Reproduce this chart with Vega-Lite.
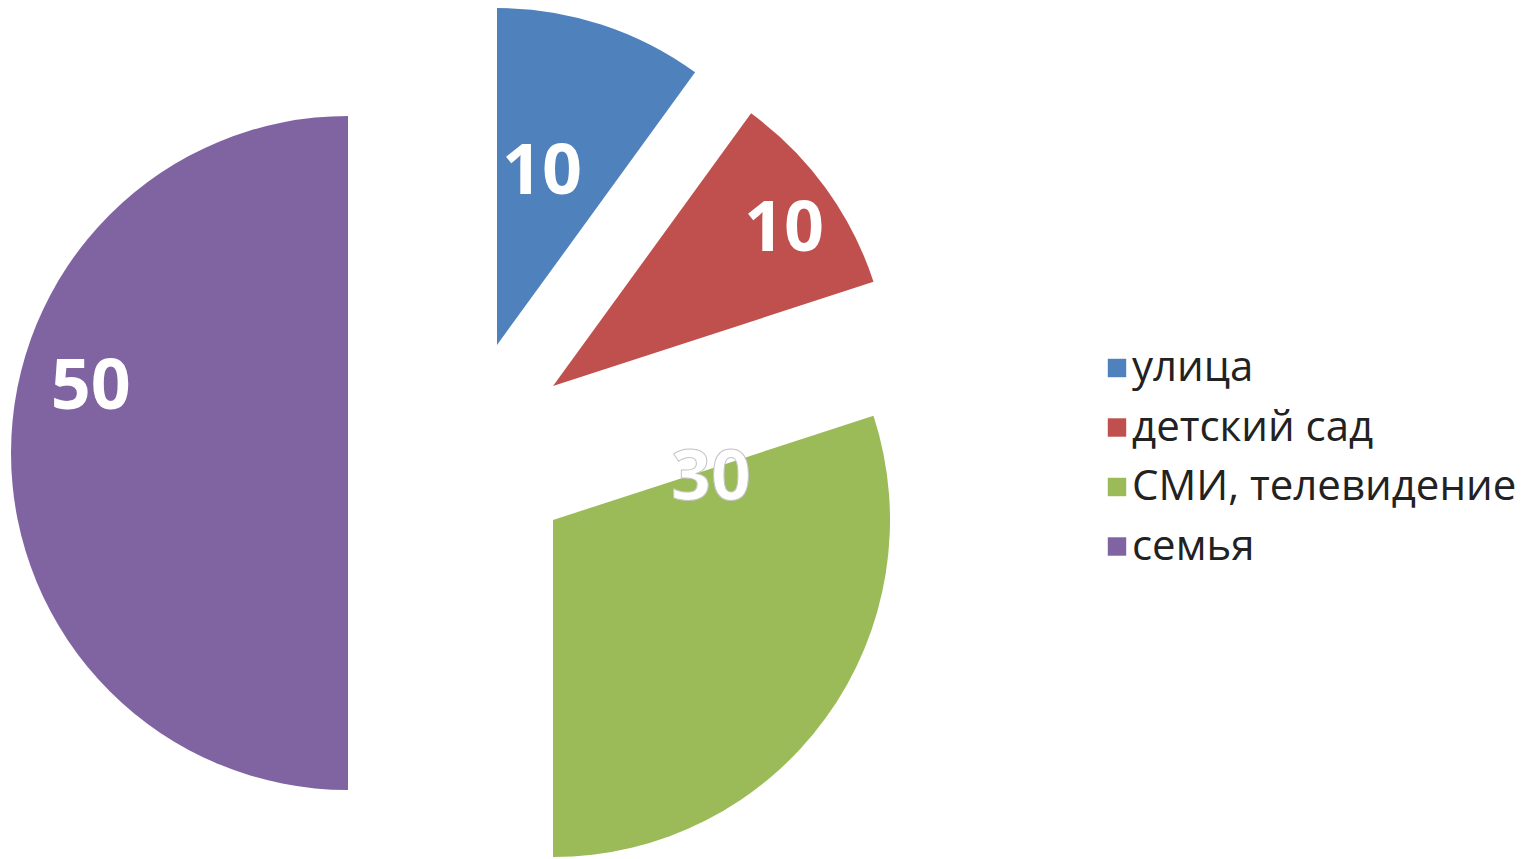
{
  "$schema": "https://vega.github.io/schema/vega-lite/v6.json",
  "width": 1536,
  "height": 859,
  "autosize": "none",
  "padding": 0,
  "background": "white",
  "config": {"view": {"stroke": null}},
  "data": {"values": [
    {"category": "улица", "value": 10},
    {"category": "детский сад", "value": 10},
    {"category": "СМИ, телевидение", "value": 30},
    {"category": "семья", "value": 50}
  ]},
  "transform": [{"stack": "value", "groupby": [], "as": ["v0", "v1"]}],
  "layer": [
    {
      "transform": [{"filter": "datum.category === 'улица'"}],
      "mark": {"type": "arc", "radius": 337, "xOffset": -271, "yOffset": -84.5},
      "encoding": {
        "theta": {"field": "v0", "type": "quantitative", "scale": {"domain": [0, 100]}},
        "theta2": {"field": "v1"},
        "color": {"field": "category", "type": "nominal",
          "scale": {"domain": ["улица", "детский сад", "СМИ, телевидение", "семья"], "range": ["#4F81BD", "#C0504D", "#9BBB59", "#8064A2"]},
          "legend": {"title": null, "orient": "none", "legendX": 1096, "legendY": 347, "symbolType": "square", "symbolSize": 340, "symbolStrokeWidth": 0, "labelFontSize": 42, "labelFont": "Open Sans", "labelColor": "#222222", "labelLimit": 0, "rowPadding": 17.5, "labelOffset": -6}}
      }
    },
    {
      "transform": [{"filter": "datum.category === 'детский сад'"}],
      "mark": {"type": "arc", "radius": 337, "xOffset": -215, "yOffset": -43.5},
      "encoding": {
        "theta": {"field": "v0", "type": "quantitative", "scale": {"domain": [0, 100]}},
        "theta2": {"field": "v1"},
        "color": {"field": "category", "type": "nominal",
          "scale": {"domain": ["улица", "детский сад", "СМИ, телевидение", "семья"], "range": ["#4F81BD", "#C0504D", "#9BBB59", "#8064A2"]},
          "legend": {"title": null, "orient": "none", "legendX": 1096, "legendY": 347, "symbolType": "square", "symbolSize": 340, "symbolStrokeWidth": 0, "labelFontSize": 42, "labelFont": "Open Sans", "labelColor": "#222222", "labelLimit": 0, "rowPadding": 17.5, "labelOffset": -6}}
      }
    },
    {
      "transform": [{"filter": "datum.category === 'СМИ, телевидение'"}],
      "mark": {"type": "arc", "radius": 337, "xOffset": -215, "yOffset": 90.5},
      "encoding": {
        "theta": {"field": "v0", "type": "quantitative", "scale": {"domain": [0, 100]}},
        "theta2": {"field": "v1"},
        "color": {"field": "category", "type": "nominal",
          "scale": {"domain": ["улица", "детский сад", "СМИ, телевидение", "семья"], "range": ["#4F81BD", "#C0504D", "#9BBB59", "#8064A2"]},
          "legend": {"title": null, "orient": "none", "legendX": 1096, "legendY": 347, "symbolType": "square", "symbolSize": 340, "symbolStrokeWidth": 0, "labelFontSize": 42, "labelFont": "Open Sans", "labelColor": "#222222", "labelLimit": 0, "rowPadding": 17.5, "labelOffset": -6}}
      }
    },
    {
      "transform": [{"filter": "datum.category === 'семья'"}],
      "mark": {"type": "arc", "radius": 337, "xOffset": -420, "yOffset": 23.5},
      "encoding": {
        "theta": {"field": "v0", "type": "quantitative", "scale": {"domain": [0, 100]}},
        "theta2": {"field": "v1"},
        "color": {"field": "category", "type": "nominal",
          "scale": {"domain": ["улица", "детский сад", "СМИ, телевидение", "семья"], "range": ["#4F81BD", "#C0504D", "#9BBB59", "#8064A2"]},
          "legend": {"title": null, "orient": "none", "legendX": 1096, "legendY": 347, "symbolType": "square", "symbolSize": 340, "symbolStrokeWidth": 0, "labelFontSize": 42, "labelFont": "Open Sans", "labelColor": "#222222", "labelLimit": 0, "rowPadding": 17.5, "labelOffset": -6}}
      }
    },
    {
      "transform": [{"filter": "datum.category === 'улица'"}],
      "mark": {"type": "text", "radius": 182.6, "thetaOffset": 0.249, "xOffset": -271, "yOffset": -84.5, "dy": 5, "font": "Open Sans", "fontWeight": "bold", "fontSize": 70, "fill": "white", "align": "center", "baseline": "middle"},
      "encoding": {
        "theta": {"field": "v0", "type": "quantitative", "stack": null},
        "text": {"field": "value", "type": "quantitative"}
      }
    },
    {
      "transform": [{"filter": "datum.category === 'детский сад'"}],
      "mark": {"type": "text", "radius": 281, "thetaOffset": 0.337, "xOffset": -215, "yOffset": -43.5, "dy": 4, "font": "Open Sans", "fontWeight": "bold", "fontSize": 70, "fill": "white", "align": "center", "baseline": "middle"},
      "encoding": {
        "theta": {"field": "v0", "type": "quantitative", "stack": null},
        "text": {"field": "value", "type": "quantitative"}
      }
    },
    {
      "transform": [{"filter": "datum.category === 'СМИ, телевидение'"}],
      "mark": {"type": "text", "radius": 164.6, "thetaOffset": 0.031, "xOffset": -215, "yOffset": 90.5, "dy": 5, "font": "Open Sans", "fontWeight": "bold", "fontSize": 70, "fill": "white", "stroke": "#c4c4c4", "strokeWidth": 1, "align": "center", "baseline": "middle"},
      "encoding": {
        "theta": {"field": "v0", "type": "quantitative", "stack": null},
        "text": {"field": "value", "type": "quantitative"}
      }
    },
    {
      "transform": [{"filter": "datum.category === 'семья'"}],
      "mark": {"type": "text", "radius": 266, "thetaOffset": 1.829, "xOffset": -420, "yOffset": 23.5, "dy": 3, "font": "Open Sans", "fontWeight": "bold", "fontSize": 70, "fill": "white", "align": "center", "baseline": "middle"},
      "encoding": {
        "theta": {"field": "v0", "type": "quantitative", "stack": null},
        "text": {"field": "value", "type": "quantitative"}
      }
    }
  ]
}
